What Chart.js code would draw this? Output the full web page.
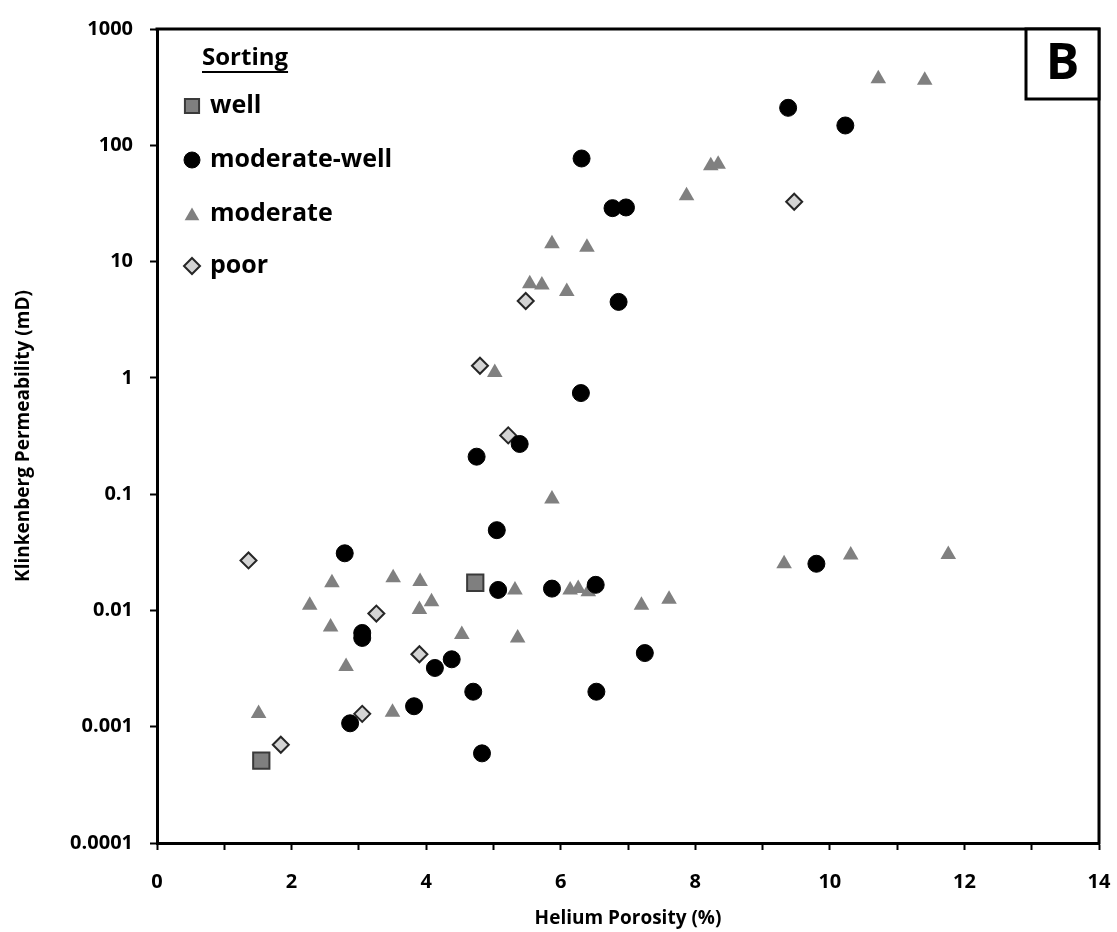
<!DOCTYPE html>
<html>
<head>
<meta charset="utf-8">
<script src="https://cdn.jsdelivr.net/npm/chart.js@4/dist/chart.umd.min.js"></script>
<style>
html,body{margin:0;padding:0;background:#ffffff;}
#wrap{width:1117px;height:932px;position:relative;}
</style>
</head>
<body>
<div id="wrap"><canvas id="c" width="1117" height="932"></canvas></div>
<script>
// ---- data ----
const seriesNames = ['well', 'moderate-well', 'moderate', 'poor'];

const wellX = [4.73, 1.55];
const wellY = [0.0173, 0.00051];

const modWellX = [9.38, 10.23, 6.31, 6.77, 6.97, 6.86, 6.30, 5.39, 4.75, 5.05, 2.79, 9.80, 5.07, 5.87, 6.52, 3.05, 3.05, 7.25, 4.38, 4.13, 4.70, 6.53, 3.82, 2.87, 4.83];
const modWellY = [210, 148, 77, 28.8, 29.2, 4.5, 0.74, 0.27, 0.21, 0.049, 0.031, 0.0252, 0.015, 0.0154, 0.0166, 0.0064, 0.0058, 0.0043, 0.0038, 0.0032, 0.0020, 0.0020, 0.0015, 0.00107, 0.00059];

const moderateX = [10.72, 11.41, 8.23, 8.34, 7.87, 5.87, 6.39, 5.54, 5.72, 6.09, 5.02, 5.87, 9.32, 10.31, 11.76, 2.60, 3.51, 3.91, 5.32, 6.14, 6.26, 6.41, 7.20, 7.61, 2.27, 4.08, 3.90, 2.58, 4.53, 5.36, 2.81, 1.51, 3.50];
const moderateY = [373, 363, 66.6, 68.7, 36.8, 14.2, 13.3, 6.44, 6.3, 5.54, 1.11, 0.091, 0.0252, 0.0299, 0.0303, 0.0173, 0.0191, 0.0177, 0.015, 0.015, 0.0154, 0.0145, 0.0111, 0.0125, 0.0111, 0.0119, 0.0102, 0.0072, 0.0062, 0.0058, 0.0033, 0.0013, 0.00133];

const poorX = [9.47, 5.48, 4.80, 5.22, 1.36, 3.26, 3.90, 3.05, 1.84];
const poorY = [32.7, 4.58, 1.27, 0.32, 0.0269, 0.0094, 0.0042, 0.00129, 0.0007];

const yTickValues = [0.0001, 0.001, 0.01, 0.1, 1, 10, 100, 1000];
const yTickLabels = ['0.0001', '0.001', '0.01', '0.1', '1', '10', '100', '1000'];
const xTickLabels = ['0', '', '2', '', '4', '', '6', '', '8', '', '10', '', '12', '', '14'];

const xTitle = 'Helium Porosity (%)';
const yTitle = 'Klinkenberg Permeability (mD)';
const legendTitle = 'Sorting';
const panelLabel = 'B';

function toPoints(xs, ys) { return xs.map((x, i) => ({ x: x, y: ys[i] })); }

const FONT = '"Open Sans", Lato, "DejaVu Sans", sans-serif';

const datasets = [
  { label: seriesNames[0], data: toPoints(wellX, wellY), pointStyle: 'rect', pointRadius: 11.5,
    backgroundColor: '#7f7f7f', borderColor: '#3a3a3a', borderWidth: 2,
    legendRadius: 10 },
  { label: seriesNames[1], data: toPoints(modWellX, modWellY), pointStyle: 'circle', pointRadius: 8.5,
    backgroundColor: '#000000', borderColor: '#000000', borderWidth: 1,
    legendRadius: 8 },
  { label: seriesNames[2], data: toPoints(moderateX, moderateY), pointStyle: 'triangle', pointRadius: 9,
    backgroundColor: '#808080', borderColor: '#808080', borderWidth: 0,
    legendRadius: 8.5 },
  { label: seriesNames[3], data: toPoints(poorX, poorY), pointStyle: 'rectRot', pointRadius: 8,
    backgroundColor: '#d4d4d4', borderColor: '#262626', borderWidth: 2,
    legendRadius: 8 }
];

function drawMarker(ctx, style, x, y, r, fill, stroke, lw) {
  ctx.save();
  ctx.beginPath();
  if (style === 'circle') {
    ctx.arc(x, y, r, 0, Math.PI * 2);
  } else if (style === 'rect') {
    const s = r * Math.SQRT1_2;
    ctx.rect(x - s, y - s, 2 * s, 2 * s);
  } else if (style === 'triangle') {
    ctx.moveTo(x, y - r);
    ctx.lineTo(x + r * Math.sin(2 * Math.PI / 3), y - r * Math.cos(2 * Math.PI / 3));
    ctx.lineTo(x + r * Math.sin(4 * Math.PI / 3), y - r * Math.cos(4 * Math.PI / 3));
    ctx.closePath();
  } else if (style === 'rectRot') {
    ctx.moveTo(x, y - r); ctx.lineTo(x + r, y); ctx.lineTo(x, y + r); ctx.lineTo(x - r, y);
    ctx.closePath();
  }
  ctx.fillStyle = fill;
  ctx.fill();
  if (lw > 0) { ctx.lineWidth = lw; ctx.strokeStyle = stroke; ctx.stroke(); }
  ctx.restore();
}

const decorPlugin = {
  id: 'decor',
  afterDraw(chart) {
    const ctx = chart.ctx;
    const a = chart.chartArea;
    ctx.save();
    // top and right frame
    ctx.strokeStyle = '#000';
    ctx.lineWidth = 3;
    ctx.beginPath();
    ctx.moveTo(a.left - 1.5, a.top);
    ctx.lineTo(a.right, a.top);
    ctx.lineTo(a.right, a.bottom + 1.5);
    ctx.stroke();
    // panel label box
    const bw = 73, bh = 70;
    ctx.fillStyle = '#fff';
    ctx.fillRect(a.right - bw, a.top, bw, bh);
    ctx.strokeRect(a.right - bw, a.top, bw, bh);
    ctx.fillStyle = '#000';
    ctx.font = 'bold 50px ' + FONT;
    ctx.textAlign = 'center';
    ctx.textBaseline = 'middle';
    ctx.fillText(panelLabel, a.right - bw / 2, a.top + bh / 2 + 1);
    // legend
    const lx = a.left + 35, tx = a.left + 53;
    ctx.textAlign = 'left';
    ctx.font = 'bold 24px ' + FONT;
    ctx.fillText(legendTitle, a.left + 45, a.top + 29);
    const tw = ctx.measureText(legendTitle).width;
    ctx.lineWidth = 2;
    ctx.beginPath();
    ctx.moveTo(a.left + 45, a.top + 43);
    ctx.lineTo(a.left + 45 + tw, a.top + 43);
    ctx.stroke();
    const rows = [77, 131, 185, 237];
    ctx.font = 'bold 25px ' + FONT;
    chart.data.datasets.forEach((ds, i) => {
      const yy = a.top + rows[i];
      drawMarker(ctx, ds.pointStyle, lx, yy + (ds.pointStyle === 'triangle' ? 2 : 0), ds.legendRadius,
        ds.backgroundColor, ds.borderColor, ds.borderWidth);
      ctx.fillStyle = '#000';
      ctx.fillText(ds.label, tx, yy);
    });
    ctx.restore();
  }
};

new Chart(document.getElementById('c'), {
  type: 'scatter',
  data: { datasets: datasets },
  options: {
    responsive: false,
    animation: false,
    devicePixelRatio: 1,
    layout: { padding: { top: 26, right: 18, bottom: 0, left: 0 } },
    plugins: { legend: { display: false }, tooltip: { enabled: false } },
    scales: {
      x: {
        type: 'linear', min: 0, max: 14,
        afterFit(s) { s.height = 89; s.paddingLeft = 0; s.paddingRight = 0; },
        border: { display: true, color: '#000', width: 3 },
        grid: { drawOnChartArea: false, drawTicks: true, tickLength: 7, tickWidth: 2, tickColor: '#000', color: '#000' },
        ticks: {
          stepSize: 1, autoSkip: false, maxRotation: 0, padding: 20, color: '#000',
          font: { family: FONT, size: 20, weight: 'bold' },
          callback: (v) => xTickLabels[Math.round(v)] ?? ''
        },
        title: { display: true, text: xTitle, color: '#000', font: { family: FONT, size: 19, weight: 'bold' },
          padding: { top: 0, bottom: 2 } }
      },
      y: {
        type: 'logarithmic', min: 0.0001, max: 1000,
        afterFit(s) { s.width = 157; },
        afterBuildTicks(s) { s.ticks = yTickValues.map(v => ({ value: v })); },
        border: { display: true, color: '#000', width: 3 },
        grid: { drawOnChartArea: false, drawTicks: true, tickLength: 7, tickWidth: 2, tickColor: '#000', color: '#000' },
        ticks: {
          autoSkip: false, padding: 17, color: '#000',
          font: { family: FONT, size: 20, weight: 'bold' },
          callback: (v) => { const i = yTickValues.findIndex(t => Math.abs(Math.log10(t) - Math.log10(v)) < 1e-6); return i >= 0 ? yTickLabels[i] : ''; }
        },
        title: { display: true, text: yTitle, color: '#000', font: { family: FONT, size: 19, weight: 'bold' },
          padding: { top: 12, bottom: 0 } }
      }
    }
  },
  plugins: [decorPlugin]
});
</script>
</body>
</html>
